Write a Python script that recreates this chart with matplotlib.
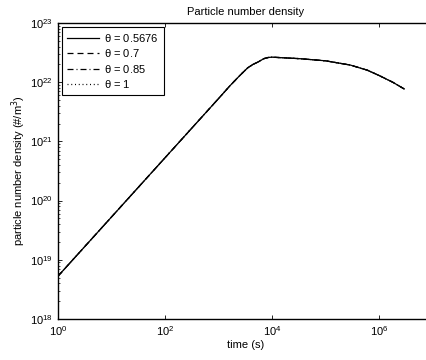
import numpy as np
import matplotlib
matplotlib.use("Agg")
import matplotlib.pyplot as plt

#---------------------FONT and other graphics------------------------
matplotlib.rc('font', family=['Liberation Sans', 'DejaVu Sans'], size=8)
matplotlib.rc('xtick', direction='in', top=True)
matplotlib.rc('ytick', direction='in', right=True)
matplotlib.rc('xtick.major', size=3, width=0.6)
matplotlib.rc('ytick.major', size=3, width=0.6)
matplotlib.rc('xtick.minor', size=1.6, width=0.5)
matplotlib.rc('ytick.minor', size=1.6, width=0.5)

#---------------------DATA------------------------
time = [1, 10, 100, 1000, 1630, 2500, 3500, 4400, 5500, 7000, 8500, 1e4,
        3.3e4, 1e5, 2.9e5, 6e5, 1e6, 1.8e6, 2.95e6]
density = [5.3e18, 5.3e19, 5.3e20, 5.3e21, 8.7e21, 1.3e22, 1.75e22, 2.0e22,
           2.2e22, 2.5e22, 2.62e22, 2.65e22, 2.5e22, 2.3e22, 1.95e22, 1.6e22,
           1.3e22, 1.0e22, 7.7e21]
thetas = ['0.5676', '0.7', '0.85', '1']
styles = ['-', (0, (4.8, 3.2)), (0, (4.8, 2.4, 0.8, 2.4)), (0, (0.8, 2.2))]

#------------Figure Layout--------------
fig = plt.figure(figsize=(4.27, 3.6), dpi=100)
ax = fig.add_axes([0.136, 0.114, 0.877, 0.822])

for th, ls in zip(thetas, styles):
    ax.plot(time, density, color='black', linestyle=ls, linewidth=0.9,
            label=r'$\mathregular{\theta}$ = ' + th)

ax.set_xscale('log')
ax.set_yscale('log')
ax.set_xlim(1, 1e7)
ax.set_ylim(1e18, 1e23)
ax.set_xticks([1, 1e2, 1e4, 1e6])
ax.set_yticks([1e18, 1e19, 1e20, 1e21, 1e22, 1e23])
ax.xaxis.set_minor_locator(matplotlib.ticker.NullLocator())
for s in ax.spines.values():
    s.set_linewidth(1.0)

ax.set_title('Particle number density', fontsize=8, pad=6)
ax.set_xlabel('time (s)', fontsize=8, labelpad=2)
ax.set_ylabel(r'particle number density (#/m$^3$)', fontsize=8, labelpad=2)

leg = ax.legend(loc='upper left', fontsize=8, fancybox=False, framealpha=1,
                edgecolor='black', handlelength=2.9, handletextpad=0.45,
                borderaxespad=0.35, borderpad=0.45, labelspacing=0.3)
leg.get_frame().set_linewidth(0.8)

fig.savefig('out.png', dpi=100)
